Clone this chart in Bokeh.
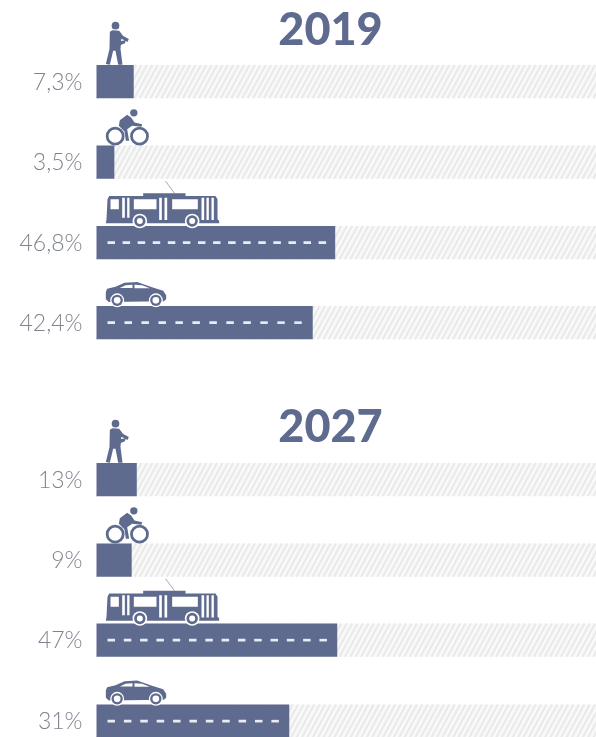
from bokeh.plotting import figure
from bokeh.models import Range1d
from bokeh.core.properties import value
from bokeh.embed import file_html
from bokeh.resources import INLINE

# ---- data ----
years = ["2019", "2027"]
modes = ["pedestrian", "bicycle", "trolleybus", "car"]
labels_2019 = ["7,3%", "3,5%", "46,8%", "42,4%"]
labels_2027 = ["13%", "9%", "47%", "31%"]
# drawn bar lengths (2027 bars are not to the labelled scale)
lengths_2019 = [7.3, 3.5, 46.8, 42.4]
lengths_2027 = [7.9, 6.9, 47.2, 37.8]
track_total = [100, 100, 100, 100]
dash_counts_2019 = [0, 0, 15, 12]
dash_counts_2027 = [0, 0, 14, 11]

# ---- layout (pixels of the page) ----
W, H = 596, 737
X0 = 96
PX_PER_PCT = 5.1
tops = {"2019": [64.5, 145, 225.5, 305.5], "2027": [462.5, 543, 623, 704]}
BAR_H = 33.3
title_y = {"2019": 28, "2027": 425}
title_x = 330

BLUE = "#5f6b8e"
GREY = "#7f838d"
STRIPE_BG = "#f9f9f9"
STRIPE = "#e9e9e9"
ROAD = "#e9ecf2"

p = figure(width=W, height=H, output_backend="svg", toolbar_location=None,
           x_range=Range1d(-X0 / PX_PER_PCT, (W - X0) / PX_PER_PCT),
           y_range=Range1d(H, 0), min_border=0, outline_line_color=None,
           x_axis_type="linear", background_fill_color="white", border_fill_color="white")
p.xaxis.visible = False
p.yaxis.visible = False
p.grid.visible = False
p.styles = {"position": "fixed", "left": "0", "top": "0"}
p.extra_x_ranges["px"] = Range1d(0, W)


def poly(pts, ox, oy, color):
    """icon outline given in 1/3 px units relative to the icon's anchor"""
    p.patch([ox + a / 3 for a, _ in pts], [oy + b / 3 for _, b in pts],
            x_range_name="px", fill_color=color, line_color=None)


def dot(cx, cy, r, ox, oy, fill, line=None, lw=0):
    p.scatter([ox + cx / 3], [oy + cy / 3], size=2 * r / 3, marker="circle", x_range_name="px",
              fill_color=fill, line_color=line, line_width=lw)


def pedestrian(oy):
    dot(345, -118, 11.5, 0, oy, BLUE)
    poly([(328, -100), (336, -104), (356, -103), (368, -87), (385, -78), (381, -69), (363, -79),
          (361, -72), (376, -74), (373, -65), (361, -60), (360, -48), (366, -1), (353, -1),
          (345, -43), (338, -43), (328, -1), (316, -3), (327, -48)], 0, oy, BLUE)


def bicycle(oy):
    dot(344, -28, 24, 0, oy, None, BLUE, 2.8)
    dot(417, -28, 24, 0, oy, None, BLUE, 2.8)
    dot(400, -98, 11, 0, oy, BLUE)
    poly([(358, -76), (380, -92), (392, -84), (402, -69), (425, -64), (423, -56), (395, -59),
          (380, -49), (386, -14), (376, -14), (372, -42), (355, -59)], 0, oy, BLUE)


def bus(oy):
    # pole
    p.line([495 / 3, 522 / 3], [oy - 135 / 3, oy - 98 / 3], x_range_name="px",
           line_color="#a5a9b3", line_width=1)
    poly([(428, -98), (555, -98), (555, -88), (428, -88)], 0, oy, BLUE)
    poly([(326, -90), (645, -90), (651, -80), (651, -20), (656, -16), (656, -8), (316, -8),
          (318, -20), (321, -80)], 0, oy, BLUE)
    for a, b, c, d in [(330, 355, -80, -50), (365, 373, -85, -25), (380, 387, -85, -25),
                       (400, 468, -80, -50), (476, 484, -85, -18), (492, 500, -85, -18),
                       (515, 592, -80, -50), (603, 611, -85, -18), (618, 625, -85, -18),
                       (633, 640, -85, -18)]:
        poly([(a, c), (b, c), (b, d), (a, d)], 0, oy, "white")
    for cx in (418, 575):
        dot(cx, -15, 22, 0, oy, "white")
        dot(cx, -15, 17, 0, oy, BLUE)
        dot(cx, -15, 9, 0, oy, "white")


def car(oy):
    poly([(316, -42), (320, -52), (345, -58), (372, -70), (410, -72), (450, -58), (488, -46),
          (497, -32), (497, -20), (490, -14), (325, -12), (316, -20)], 0, oy, BLUE)
    poly([(358, -54), (375, -62), (396, -64), (396, -54)], 0, oy, "white")
    poly([(402, -64), (425, -62), (448, -53), (402, -53)], 0, oy, "white")
    for cx in (350, 466):
        dot(cx, -17, 21, 0, oy, "white")
        dot(cx, -17, 17, 0, oy, BLUE)
        dot(cx, -17, 10, 0, oy, "white")


icons = dict(zip(modes, [pedestrian, bicycle, bus, car]))


def draw_year(year, lengths, labels, dashes):
    y_tops = tops[year]
    y_bot = [t + BAR_H for t in y_tops]
    # hatched track
    p.quad(left=[0] * 4, right=track_total, top=y_tops, bottom=y_bot,
           fill_color=STRIPE_BG, line_color=None)
    xs, ys = [], []
    for t, b in zip(y_tops, y_bot):
        for k in range(0, 96):
            a = X0 + k * 5.4
            xs.append([a, a + 18])
            ys.append([b, t])
    p.multi_line(xs, ys, x_range_name="px", line_color=STRIPE, line_width=2.0)
    # value bars
    p.quad(left=[0] * 4, right=lengths, top=y_tops, bottom=y_bot,
           fill_color=BLUE, line_color=None)
    # value labels
    p.text([82] * 4, [t + BAR_H / 2 - 1 for t in y_tops], text=labels, x_range_name="px",
           text_align="right", text_baseline="middle", text_color=GREY,
           text_font=value("Lato Light"), text_font_size="23px")
    # road markings
    for n, length, t in zip(dashes, lengths, y_tops):
        if n:
            start = 107
            end = X0 + length * PX_PER_PCT - 9
            period = (end - start + 7.5) / n
            x0 = [start + i * period for i in range(n)]
            x1 = [x + 7.5 for x in x0]
            yy = [t + BAR_H / 2] * n
            p.segment(x0, yy, x1, yy, x_range_name="px", line_color=ROAD, line_width=2.6)
    # icons
    for m, t in zip(modes, y_tops):
        icons[m](t)
    # heading
    p.text([title_x], [title_y[year]], text=[year], x_range_name="px", text_align="center",
           text_baseline="middle", text_color=BLUE, text_font=value("Lato Black"),
           text_font_size="45px")


draw_year(years[0], lengths_2019, labels_2019, dash_counts_2019)
draw_year(years[1], lengths_2027, labels_2027, dash_counts_2027)

open("out.html", "w").write(file_html(p, INLINE))
